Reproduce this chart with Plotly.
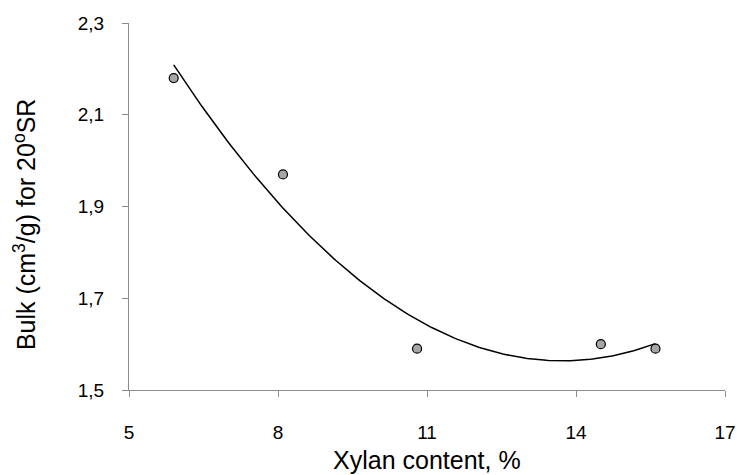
import numpy as np
import plotly.graph_objects as go

xylan = [5.9, 8.1, 10.8, 14.5, 15.6]
bulk = [2.18, 1.97, 1.59, 1.60, 1.59]
x_ticks = [5, 8, 11, 14, 17]
y_ticks = [1.5, 1.7, 1.9, 2.1, 2.3]

# second-order polynomial trendline fitted to the data
coef = np.polyfit(xylan, bulk, 2)
xt = np.linspace(min(xylan), max(xylan), 200)
yt = np.polyval(coef, xt)

FONT = "Liberation Sans, Arial, sans-serif"

fig = go.Figure()
fig.add_trace(go.Scatter(x=xt, y=yt, mode="lines",
                         line=dict(color="black", width=1.5), hoverinfo="skip"))
fig.add_trace(go.Scatter(x=xylan, y=bulk, mode="markers",
                         marker=dict(size=9, color="#A6A6A6",
                                     line=dict(color="black", width=1.2))))

axis_common = dict(showgrid=False, zeroline=False, showline=True,
                   automargin=False,
                   linecolor="#8C8C8C", linewidth=1.3, ticks="outside",
                   ticklen=6, tickcolor="#8C8C8C", tickwidth=1.3,
                   tickfont=dict(family=FONT, size=19, color="black"))

fig.update_xaxes(range=[5, 17], tickvals=x_ticks, ticklabelstandoff=19,
                 **axis_common)
fig.update_yaxes(range=[1.5, 2.3], tickvals=y_ticks, tickformat=".1f",
                 ticklabelstandoff=14, **axis_common)

fig.add_annotation(text="Xylan content, %", xref="paper", yref="paper",
                   x=0.5, y=-0.19, xanchor="center", yanchor="middle",
                   showarrow=False,
                   font=dict(family=FONT, size=25, color="black"))
fig.add_annotation(text="Bulk (cm<sup>3</sup>/g) for 20<sup>o</sup>SR",
                   xref="paper", yref="paper", x=-0.1745, y=0.452,
                   xanchor="center", yanchor="middle", textangle=-90,
                   showarrow=False,
                   font=dict(family=FONT, size=25, color="black"))

fig.update_layout(width=740, height=475, showlegend=False,
                  separators=",.",
                  plot_bgcolor="white", paper_bgcolor="white",
                  margin=dict(l=129, r=15, t=23, b=85))

fig.write_html("out.html", config={"displayModeBar": False},
               post_script="document.body.style.margin='0';")
